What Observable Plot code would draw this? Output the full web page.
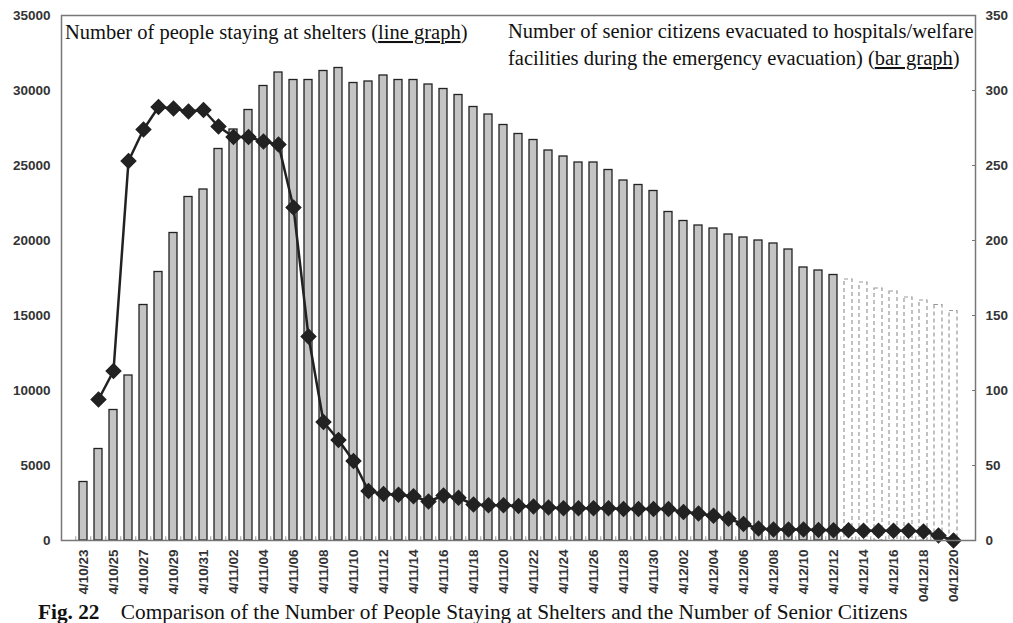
<!DOCTYPE html>
<html>
<head>
<meta charset="utf-8">
<script src="https://cdn.jsdelivr.net/npm/d3@7"></script>
<script src="https://cdn.jsdelivr.net/npm/@observablehq/plot@0.6"></script>
<style>
  html, body { margin: 0; padding: 0; background: #fff; overflow: hidden; }
  #wrap { position: relative; width: 1013px; height: 623px; overflow: hidden; }
  #caption { position: absolute; left: 38px; top: 601px; font-family: "Liberation Serif", serif; font-size: 21.3px; line-height: 22px; color: #111; white-space: pre; }
  #caption b { font-weight: bold; }
</style>
</head>
<body>
<div id="wrap">
  <div id="chart"></div>
  <div id="caption"><b>Fig. 22</b>    Comparison of the Number of People Staying at Shelters and the Number of Senior Citizens</div>
</div>
<script>
// Dates (2004, Oct 23 – Dec 20)
const dates = [
  "4/10/23","4/10/24","4/10/25","4/10/26","4/10/27","4/10/28","4/10/29","4/10/30","4/10/31",
  "4/11/01","4/11/02","4/11/03","4/11/04","4/11/05","4/11/06","4/11/07","4/11/08","4/11/09","4/11/10",
  "4/11/11","4/11/12","4/11/13","4/11/14","4/11/15","4/11/16","4/11/17","4/11/18","4/11/19","4/11/20",
  "4/11/21","4/11/22","4/11/23","4/11/24","4/11/25","4/11/26","4/11/27","4/11/28","4/11/29","4/11/30",
  "4/12/01","4/12/02","4/12/03","4/12/04","4/12/05","4/12/06","4/12/07","4/12/08","4/12/09","4/12/10",
  "4/12/11","4/12/12","4/12/13","4/12/14","4/12/15","4/12/16","4/12/17","04/12/18","4/12/19","04/12/20"
];
// Senior citizens evacuated to hospitals/welfare facilities (bar graph, right axis)
const seniors = [
  39, 61, 87, 110, 157, 179, 205, 229, 234,
  261, 274, 287, 303, 312, 307, 307, 313, 315, 305,
  306, 310, 307, 307, 304, 301, 297, 289, 284, 277,
  271, 267, 260, 256, 252, 252, 247, 240, 237, 233,
  219, 213, 210, 208, 204, 202, 200, 198, 194, 182,
  180, 177, 174, 172, 168, 166, 162, 160, 157, 153
];
// People staying at shelters (line graph, left axis)
const shelters = [
  null, 9400, 11300, 25300, 27400, 28900, 28800, 28600, 28700,
  27600, 26900, 26900, 26600, 26400, 22200, 13600, 7900, 6700, 5300,
  3300, 3100, 3050, 2950, 2600, 3000, 2850, 2400, 2350, 2350,
  2300, 2270, 2200, 2150, 2150, 2150, 2150, 2100, 2100, 2100,
  2100, 1900, 1800, 1650, 1450, 1100, 800, 730, 730, 730,
  700, 680, 680, 650, 650, 650, 650, 600, 330, 0
];
const lastActual = "4/12/12"; // bars after this date are drawn dashed (projection)
const leftTicks = [0, 5000, 10000, 15000, 20000, 25000, 30000, 35000];
const ratio = 100; // left-axis units per right-axis unit

const cutoff = dates.indexOf(lastActual);
const data = dates.map((d, i) => ({date: d, seniors: seniors[i], shelter: shelters[i], projected: i > cutoff}));
const tickDates = dates.filter((d, i) => i % 2 === 0);

const axisFont = "Liberation Sans, Arial, sans-serif";

const chart = Plot.plot({
  width: 1013,
  height: 623,
  marginTop: 15,
  marginLeft: 61,
  marginRight: 38,
  marginBottom: 83,
  style: {fontFamily: axisFont, fontSize: "13.5px", background: "transparent", overflow: "visible"},
  x: {type: "band", domain: dates, padding: 0.5, label: null},
  y: {domain: [0, 35000], label: null},
  marks: [
    Plot.barY(data.filter(d => !d.projected), {x: "date", y: d => d.seniors * ratio, fill: "#c4c4c4", stroke: "#222", strokeWidth: 1.3}),
    Plot.barY(data.filter(d => d.projected), {x: "date", y: d => d.seniors * ratio, fill: "#fff", stroke: "#999", strokeWidth: 1.2, strokeDasharray: "4,3"}),
    Plot.ruleX(data, {x: "date", y1: 0, y2: 250, dx: -7.75, stroke: "#999", strokeWidth: 1}),
    Plot.line(data.filter(d => d.shelter != null), {x: "date", y: "shelter", stroke: "#222", strokeWidth: 2.5}),
    Plot.dot(data.filter(d => d.shelter != null), {x: "date", y: "shelter", symbol: "diamond2", r: 6.5, fill: "#222", stroke: "#222"}),
    Plot.frame({stroke: "#777", strokeWidth: 1.5}),
    Plot.axisY({anchor: "left", ticks: leftTicks, tickFormat: d => String(d), tickSize: 0, tickPadding: 11, fontWeight: "bold", fill: "#333"}),
    Plot.axisY({anchor: "right", ticks: leftTicks, tickFormat: d => String(d / ratio), tickSize: -4, tickPadding: 14, fontWeight: "bold", fill: "#333", stroke: "#777"}),
    Plot.axisX({ticks: tickDates, tickRotate: -90, tickSize: 0, tickPadding: 9, fontWeight: "bold", fill: "#333"})
  ]
});

document.getElementById("chart").appendChild(chart);

// In-plot series descriptions (serif, with underlined mark types)
const svg = d3.select(chart);
const serif = "Liberation Serif, Times New Roman, serif";
function addLabel(x, y, parts) {
  const t = svg.append("text").attr("x", x).attr("y", y)
    .attr("text-anchor", "start")
    .attr("font-family", serif).attr("font-size", 20.5).attr("fill", "#111");
  parts.forEach(p => {
    const s = t.append("tspan").text(p.text);
    if (p.u) s.attr("text-decoration", "underline");
  });
}
addLabel(65, 39, [{text: "Number of people staying at shelters ("}, {text: "line graph", u: true}, {text: ")"}]);
addLabel(508, 38, [{text: "Number of senior citizens evacuated to hospitals/welfare"}]);
addLabel(508, 65, [{text: "facilities during the emergency evacuation) ("}, {text: "bar graph", u: true}, {text: ")"}]);
</script>
</body>
</html>
